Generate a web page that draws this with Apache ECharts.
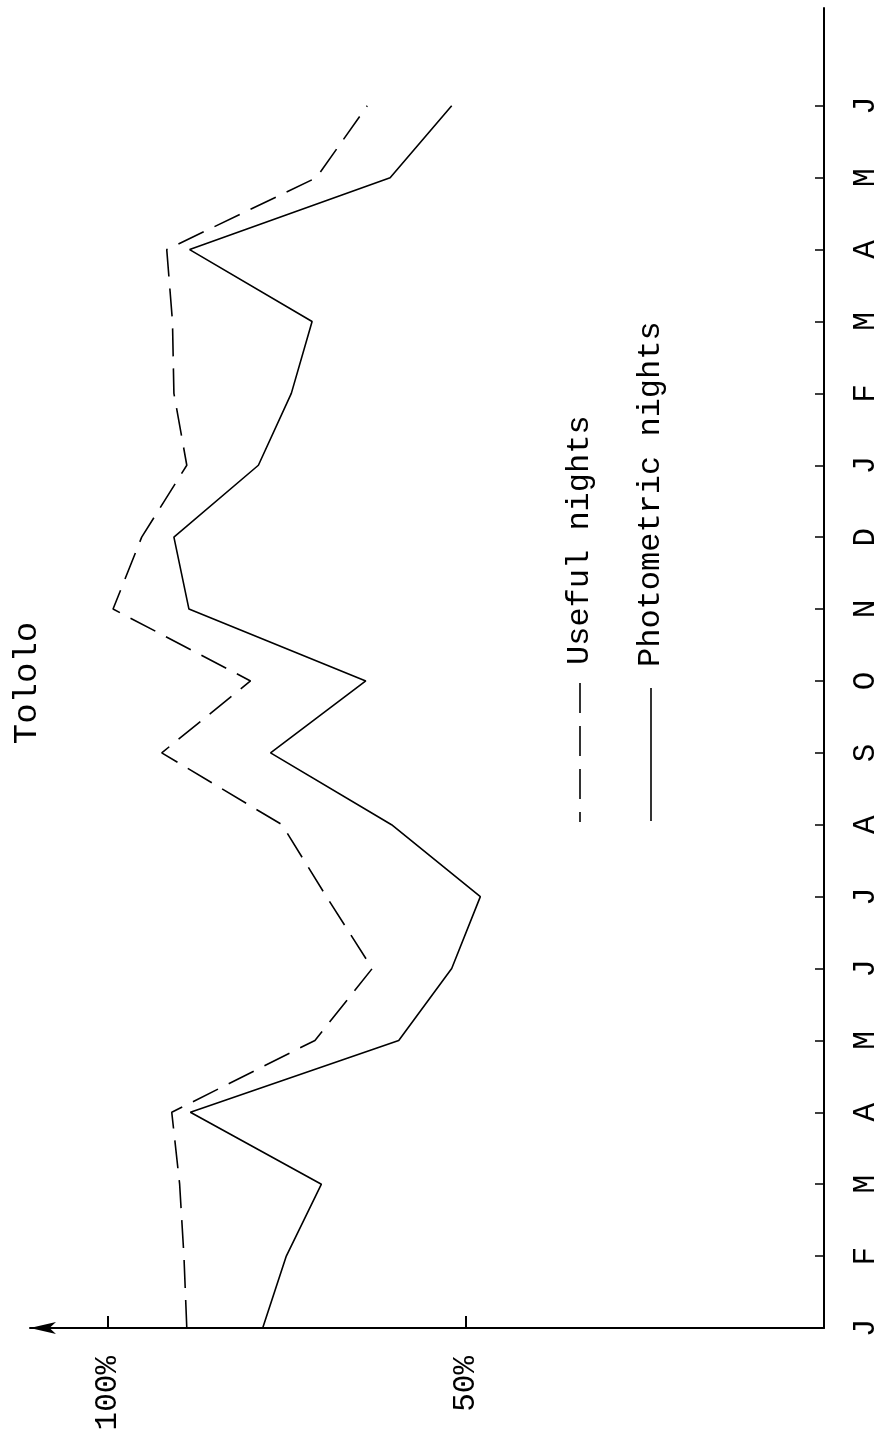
<!DOCTYPE html>
<html>
<head>
<meta charset="utf-8">
<script src="https://cdn.jsdelivr.net/npm/echarts@6/dist/echarts.min.js"></script>
<style>
html,body{margin:0;padding:0;background:#fff;}
#chart{width:881px;height:1440px;}
</style>
</head>
<body>
<div id="chart"></div>
<script>
// Month axis (runs bottom to top), Jan of year 1 to Jun of year 2
const months = ['J','F','M','A','M','J','J','A','S','O','N','D','J','F','M','A','M','J'];
// Percentage of useful nights (dashed)
const usefulNights = [89.0, 89.4, 90.0, 91.1, 71.1, 63.1, 69.5, 75.7, 92.5, 80.1, 99.3, 95.3, 89.0, 90.8, 91.0, 91.8, 70.9, 63.8];
// Percentage of photometric nights (solid)
const photometricNights = [78.4, 75.1, 70.2, 88.5, 59.4, 52.0, 48.0, 60.4, 77.3, 64.0, 88.7, 90.8, 79.0, 74.4, 71.5, 88.6, 60.6, 52.0];
// Percent tick labels
const percentTicks = [50, 100];

const FONT = 'Liberation Mono, DejaVu Sans Mono, monospace';
const FS = 31;

const chart = echarts.init(document.getElementById('chart'), null, {renderer: 'canvas'});

const monthIdx = months.map((m, i) => i);

chart.setOption({
  animation: false,
  backgroundColor: '#fff',
  grid: {left: 30, right: 56, top: 8, bottom: 112, containLabel: false},
  xAxis: {
    type: 'value',
    inverse: true,
    min: 0,
    max: 110.9,
    position: 'bottom',
    axisLine: {show: true, symbol: ['arrow', 'none'], symbolSize: [9, 26], lineStyle: {color: '#000', width: 2}},
    axisTick: {show: true, inside: true, length: 12, customValues: percentTicks, lineStyle: {color: '#000', width: 2}},
    axisLabel: {
      show: true, customValues: percentTicks, rotate: 90, margin: 28,
      formatter: v => v + '%', color: '#000', fontFamily: FONT, fontSize: FS
    },
    splitLine: {show: false}
  },
  yAxis: {
    type: 'value',
    position: 'right',
    min: 0,
    max: 18.36,
    axisLine: {show: true, lineStyle: {color: '#000', width: 2}},
    axisTick: {show: true, inside: true, length: 9, customValues: monthIdx.slice(1), lineStyle: {color: '#000', width: 1.5}},
    axisLabel: {
      show: true, customValues: monthIdx, rotate: 90, margin: 26,
      formatter: v => months[v] || '', color: '#000', fontFamily: FONT, fontSize: FS
    },
    splitLine: {show: false}
  },
  series: [
    {
      name: 'Useful nights',
      type: 'line',
      showSymbol: false,
      data: usefulNights.map((v, i) => [v, i]),
      lineStyle: {color: '#000', width: 1.6, type: [28, 12]}
    },
    {
      name: 'Photometric nights',
      type: 'line',
      showSymbol: false,
      data: photometricNights.map((v, i) => [v, i]),
      lineStyle: {color: '#000', width: 1.6, type: 'solid'}
    }
  ],
  graphic: [
    {type: 'text', x: 27, y: 683, rotation: Math.PI / 2,
     style: {text: 'Tololo', fontFamily: FONT, fontSize: 34, fill: '#000', align: 'center', verticalAlign: 'middle'}},
    {type: 'line', shape: {x1: 580, y1: 683, x2: 580, y2: 822},
     style: {stroke: '#000', lineWidth: 1.6, lineDash: [30, 13]}},
    {type: 'text', x: 580, y: 665, rotation: Math.PI / 2,
     style: {text: 'Useful nights', fontFamily: FONT, fontSize: 32, fill: '#000', align: 'left', verticalAlign: 'middle'}},
    {type: 'line', shape: {x1: 651, y1: 688, x2: 651, y2: 821},
     style: {stroke: '#000', lineWidth: 1.6}},
    {type: 'text', x: 651, y: 667, rotation: Math.PI / 2,
     style: {text: 'Photometric nights', fontFamily: FONT, fontSize: 32, fill: '#000', align: 'left', verticalAlign: 'middle'}}
  ]
});
</script>
</body>
</html>
